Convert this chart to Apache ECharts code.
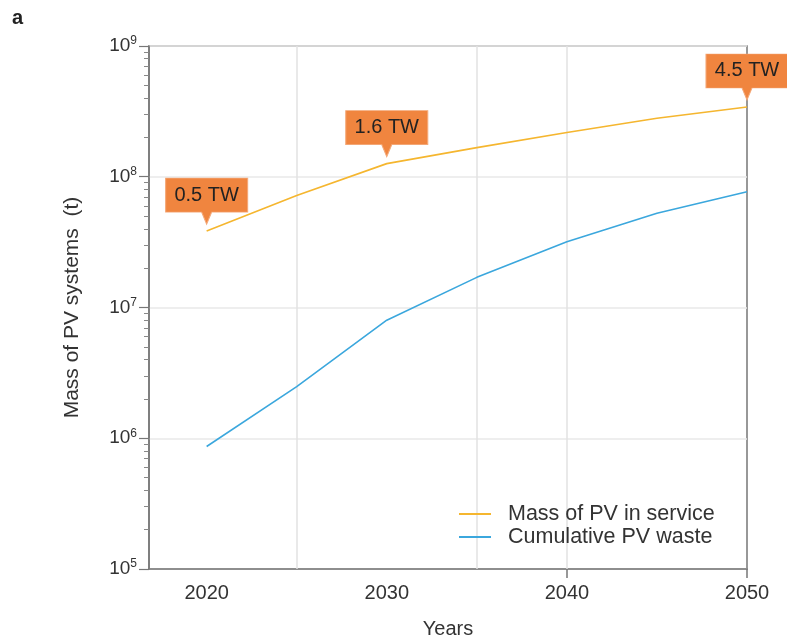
<!DOCTYPE html>
<html>
<head>
<meta charset="utf-8">
<script src="https://cdn.jsdelivr.net/npm/echarts@6/dist/echarts.min.js"></script>
<style>
html,body{margin:0;padding:0;background:#fff;}
#chart{width:787px;height:638px;}
</style>
</head>
<body>
<div id="chart"></div>
<script>
// ---- data ----
const years = [2020, 2025, 2030, 2035, 2040, 2045, 2050];
const massInService = [3.84e7, 7.2e7, 1.26e8, 1.67e8, 2.18e8, 2.8e8, 3.42e8];
const cumulativeWaste = [8.65e5, 2.48e6, 8.0e6, 1.70e7, 3.18e7, 5.25e7, 7.67e7];
const capacityYears = [2020, 2030, 2050];
const capacityLabels = ['0.5 TW', '1.6 TW', '4.5 TW'];
const xTickLabels = [2020, 2030, 2040, 2050];
const xTickMarks = [2040, 2050];
const xGridYears = [2025, 2035, 2040];
const yTickValues = [1e5, 1e6, 1e7, 1e8, 1e9];
const yMinorMultipliers = [2, 3, 4, 5, 6, 7, 8, 9];
const seriesNames = ['Mass of PV in service', 'Cumulative PV waste'];

const FONT = '"Liberation Sans", Arial, Helvetica, sans-serif';
const yMinorValues = [];
yTickValues.slice(0, -1).forEach(d => yMinorMultipliers.forEach(m => yMinorValues.push(d * m)));

const toPairs = arr => years.map((y, i) => [y, arr[i]]);
const callouts = capacityYears.map((y, i) => ({
  coord: [y, massInService[years.indexOf(y)]],
  value: capacityLabels[i]
}));

const chart = echarts.init(document.getElementById('chart'), null, {renderer: 'canvas'});
chart.setOption({
  animation: false,
  backgroundColor: '#fff',
  textStyle: {fontFamily: FONT},
  graphic: [{
    type: 'text', left: 12, top: 8,
    style: {text: 'a', font: 'bold 20px ' + FONT, fill: '#222'}
  }],
  grid: {left: 149, right: 40, top: 46, bottom: 69, show: true, borderColor: '#777', borderWidth: 1.5,
    backgroundColor: 'transparent', containLabel: false, outerBoundsMode: 'none'},
  legend: {
    orient: 'vertical', left: 459, top: 503, padding: 0,
    icon: 'rect', itemWidth: 32, itemHeight: 2, itemGap: 1,
    textStyle: {fontSize: 21.5, lineHeight: 20, color: '#333', fontFamily: FONT, padding: [0, 0, 0, 12]},
    data: seriesNames
  },
  xAxis: {
    type: 'value', min: 2016.8, max: 2050,
    name: 'Years', nameLocation: 'middle', nameGap: 50,
    nameTextStyle: {fontSize: 20, color: '#333', fontFamily: FONT},
    axisLine: {show: true, lineStyle: {color: '#777', width: 1.5}},
    axisTick: {show: true, customValues: xTickMarks, length: 9, lineStyle: {color: '#777', width: 1.5}},
    axisLabel: {customValues: xTickLabels, fontSize: 20, color: '#333', margin: 14, fontFamily: FONT, formatter: v => String(v)},
    splitLine: {show: false}
  },
  yAxis: [{
    type: 'log', logBase: 10, min: 1e5, max: 1e9,
    name: 'Mass of PV systems  (t)', nameLocation: 'middle', nameGap: 66, nameRotate: 90,
    nameTextStyle: {fontSize: 21, color: '#333', fontFamily: FONT},
    axisLine: {show: true, lineStyle: {color: '#777', width: 1.5}},
    axisTick: {show: true, customValues: yTickValues, length: 10, lineStyle: {color: '#777', width: 1.2}},
    axisLabel: {
      customValues: yTickValues, margin: 12, color: '#333', fontSize: 19, fontFamily: FONT,
      formatter: v => '10{sup|' + Math.round(Math.log10(v)) + '}',
      rich: {sup: {fontSize: 12, color: '#333', verticalAlign: 'top', padding: [0, 0, 10, 0], fontFamily: FONT}}
    },
    splitLine: {show: true, lineStyle: {color: '#e8e8e8', width: 1.5}}
  }, {
    type: 'log', logBase: 10, min: 1e5, max: 1e9, position: 'left',
    axisLine: {show: false},
    axisTick: {show: true, customValues: yMinorValues, length: 5, lineStyle: {color: '#888', width: 1}},
    axisLabel: {show: false},
    splitLine: {show: false}
  }],
  series: [{
    name: seriesNames[0], type: 'line', data: toPairs(massInService),
    symbol: 'none', smooth: false, z: 3,
    lineStyle: {color: '#F5B62F', width: 1.6}, itemStyle: {color: '#F5B62F'},
    markLine: {
      silent: true, symbol: 'none', animation: false, z: 1,
      label: {show: false},
      lineStyle: {color: '#e2e2e2', width: 1.5, type: 'solid'},
      emphasis: {disabled: true},
      data: xGridYears.map(y => ({xAxis: y}))
    },
    markPoint: {
      silent: true, z: 5,
      symbol: 'path://M0 0 H82 V34 H46 L41 46 L36 34 H0 Z',
      symbolSize: [82, 46], symbolOffset: [0, -30],
      itemStyle: {color: '#F0853F', borderColor: '#F4A878', borderWidth: 0.8},
      label: {show: true, position: 'inside', offset: [0, -6], fontSize: 20, color: '#222', fontFamily: FONT,
        formatter: p => p.data.value},
      data: callouts
    }
  }, {
    name: seriesNames[1], type: 'line', data: toPairs(cumulativeWaste),
    symbol: 'none', smooth: false, z: 3,
    lineStyle: {color: '#3BA7DD', width: 1.6}, itemStyle: {color: '#3BA7DD'}
  }]
});
</script>
</body>
</html>
